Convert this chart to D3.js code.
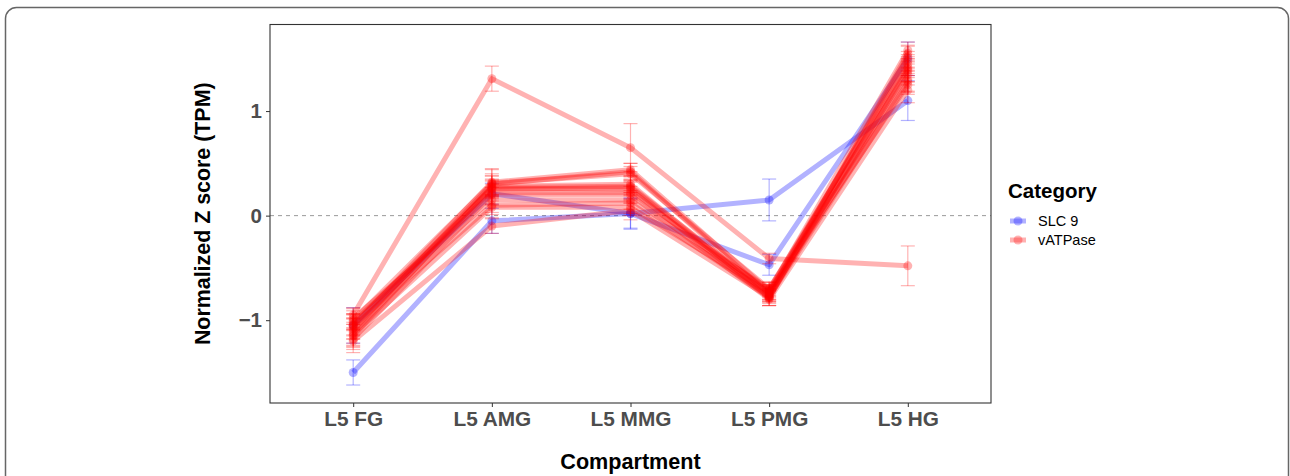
<!DOCTYPE html>
<html><head><meta charset="utf-8">
<script src="https://cdn.jsdelivr.net/npm/d3@7"></script>
<style>body{margin:0;background:#fff;}svg{display:block;font-family:"Liberation Sans",Arial,sans-serif;}</style>
</head><body>
<svg id="c" width="1290" height="476"></svg>
<script>
const compartments = ["L5 FG","L5 AMG","L5 MMG","L5 PMG","L5 HG"];
const categories = ["SLC 9","vATPase"];
const yTicks = [-1, 0, 1];
// SLC 9 genes: mean z-scores and error bar half-widths per compartment
const slcMeans = [
  [-1.50, -0.05, 0.02, 0.15, 1.10],
  [-1.05, 0.21, 0.02, -0.47, 1.50]
];
const slcErrs = [
  [0.12, 0.12, 0.15, 0.20, 0.19],
  [0.17, 0.10, 0.14, 0.10, 0.16]
];
// vATPase genes
const vMeans = [
  [-0.95, 1.31, 0.65, -0.41, -0.48],
  [-1.05, 0.32, 0.44, -0.72, 1.58],
  [-1.10, 0.30, 0.42, -0.75, 1.52],
  [-1.00, 0.31, 0.40, -0.70, 1.45],
  [-1.15, 0.28, 0.30, -0.78, 1.40],
  [-1.08, 0.27, 0.28, -0.74, 1.35],
  [-1.12, 0.25, 0.27, -0.76, 1.30],
  [-1.02, 0.22, 0.22, -0.72, 1.25],
  [-1.18, 0.20, 0.20, -0.80, 1.20],
  [-0.98, 0.15, 0.15, -0.70, 1.38],
  [-1.06, 0.10, 0.12, -0.77, 1.42],
  [-1.14, 0.08, 0.08, -0.73, 1.48],
  [-1.20, -0.10, 0.05, -0.78, 1.28],
  [-1.04, 0.26, 0.25, -0.79, 1.55]
];
const vErrs = [
  [0.07, 0.12, 0.23, 0.05, 0.19],
  [0.10, 0.12, 0.06, 0.06, 0.08],
  [0.12, 0.10, 0.08, 0.07, 0.10],
  [0.09, 0.14, 0.07, 0.06, 0.09],
  [0.11, 0.10, 0.08, 0.08, 0.12],
  [0.10, 0.08, 0.09, 0.07, 0.10],
  [0.13, 0.09, 0.07, 0.06, 0.11],
  [0.08, 0.11, 0.10, 0.08, 0.09],
  [0.10, 0.10, 0.08, 0.06, 0.12],
  [0.09, 0.12, 0.09, 0.07, 0.10],
  [0.12, 0.09, 0.10, 0.06, 0.08],
  [0.10, 0.10, 0.08, 0.07, 0.09],
  [0.11, 0.07, 0.09, 0.06, 0.10],
  [0.10, 0.12, 0.10, 0.07, 0.08]
];
const colors = {"SLC 9":"#0000FF","vATPase":"#FF0000"};

const svg = d3.select("#c");
// outer rounded frame
svg.append("rect").attr("x",5.5).attr("y",7.5).attr("width",1283).attr("height",520)
  .attr("rx",11).attr("fill","none").attr("stroke","#666").attr("stroke-width",1.5);

const P = {l:270, t:24.5, r:991, b:403};
const x = d3.scalePoint().domain(compartments).range([P.l, P.r]).padding(0.6);
const y = d3.scaleLinear().domain([-1.792, 1.828]).range([P.b, P.t]);

const series = [];
slcMeans.forEach((m,i)=>series.push({cat:"SLC 9", m, e:slcErrs[i]}));
vMeans.forEach((m,i)=>series.push({cat:"vATPase", m, e:vErrs[i]}));

const plot = svg.append("g");
// zero reference line
plot.append("line").attr("x1",P.l).attr("x2",P.r).attr("y1",y(0)).attr("y2",y(0))
  .attr("stroke","#9a9a9a").attr("stroke-width",1).attr("stroke-dasharray","4,4");

const line = d3.line().x((d,i)=>x(compartments[i])).y(d=>y(d));
series.forEach(s=>{
  const g = plot.append("g");
  const c = colors[s.cat];
  // error bars
  s.m.forEach((v,i)=>{
    const cx = x(compartments[i]), lo = y(v - s.e[i]), hi = y(v + s.e[i]);
    g.append("line").attr("x1",cx).attr("x2",cx).attr("y1",lo).attr("y2",hi)
      .attr("stroke",c).attr("stroke-opacity",0.3).attr("stroke-width",1.2);
    [lo,hi].forEach(yy=>g.append("line").attr("x1",cx-7).attr("x2",cx+7).attr("y1",yy).attr("y2",yy)
      .attr("stroke",c).attr("stroke-opacity",0.3).attr("stroke-width",1.2));
  });
  g.append("path").attr("d",line(s.m)).attr("fill","none").attr("stroke",c)
    .attr("stroke-opacity",0.3).attr("stroke-width",5).attr("stroke-linejoin","round");
  g.selectAll("circle").data(s.m).join("circle")
    .attr("cx",(d,i)=>x(compartments[i])).attr("cy",d=>y(d)).attr("r",4.5)
    .attr("fill",c).attr("fill-opacity",0.3);
});

// panel border
svg.append("rect").attr("x",P.l).attr("y",P.t).attr("width",P.r-P.l).attr("height",P.b-P.t)
  .attr("fill","none").attr("stroke","#333").attr("stroke-width",1.1);

// axes
const xa = svg.append("g").attr("transform",`translate(0,${P.b})`)
  .call(d3.axisBottom(x).tickSize(4).tickPadding(4));
xa.select(".domain").remove();
xa.selectAll(".tick line").attr("stroke","#333");
xa.selectAll("text").attr("fill","#4D4D4D").style("font-size","20.8px").style("font-weight","bold")
  .style("font-family","'Liberation Sans',Arial,sans-serif");

const ya = svg.append("g").attr("transform",`translate(${P.l},0)`)
  .call(d3.axisLeft(y).tickValues(yTicks).tickSize(4).tickPadding(4).tickFormat(d=>d<0?"\u2212"+Math.abs(d):d));
ya.select(".domain").remove();
ya.selectAll(".tick line").attr("stroke","#333");
ya.selectAll("text").attr("fill","#4D4D4D").style("font-size","20.5px").style("font-weight","bold")
  .style("font-family","'Liberation Sans',Arial,sans-serif");

svg.append("text").attr("transform",`translate(210,${(P.t+P.b)/2}) rotate(-90)`)
  .attr("text-anchor","middle").style("font-size","21.4px").style("font-weight","bold")
  .text("Normalized Z score (TPM)");
svg.append("text").attr("x",(P.l+P.r)/2).attr("y",469).attr("text-anchor","middle")
  .style("font-size","21.6px").style("font-weight","bold").text("Compartment");

// legend
const lg = svg.append("g");
lg.append("text").attr("x",1008).attr("y",198).style("font-size","20.5px").style("font-weight","bold").text("Category");
categories.forEach((cat,i)=>{
  const yy = 221 + i*19;
  lg.append("line").attr("x1",1010).attr("x2",1026).attr("y1",yy).attr("y2",yy)
    .attr("stroke",colors[cat]).attr("stroke-opacity",0.3).attr("stroke-width",5);
  lg.append("circle").attr("cx",1018).attr("cy",yy).attr("r",4.5).attr("fill",colors[cat]).attr("fill-opacity",0.3);
  lg.append("text").attr("x",1038).attr("y",yy+5).style("font-size","14.5px").text(cat);
});
</script>
</body></html>
